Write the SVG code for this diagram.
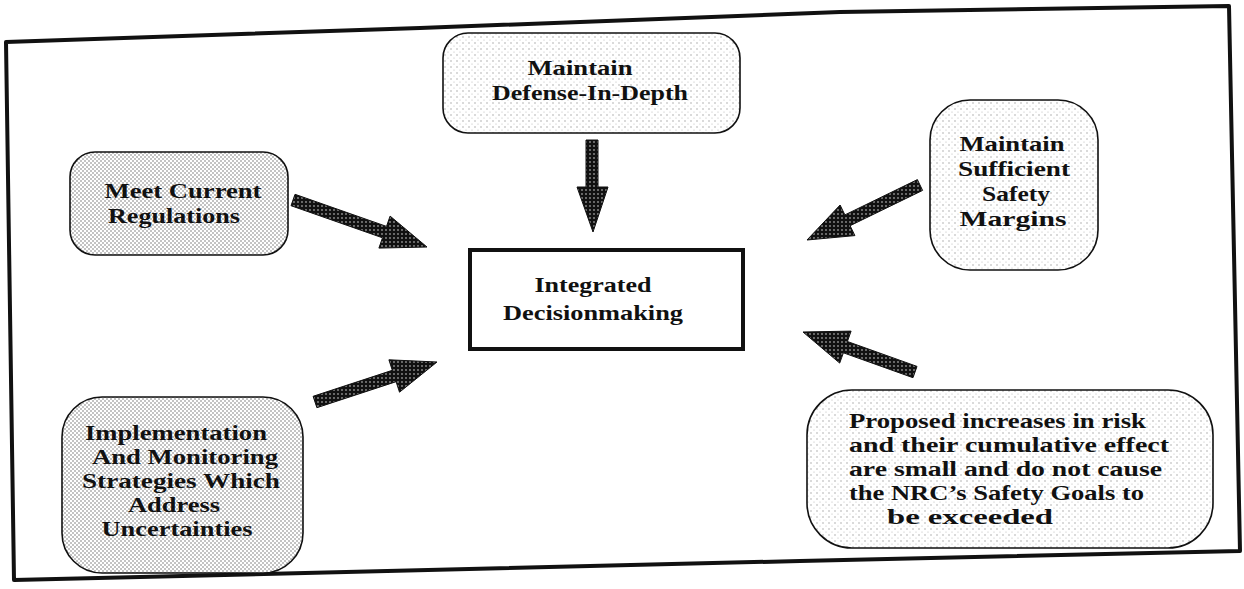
<svg xmlns="http://www.w3.org/2000/svg" width="1244" height="589" viewBox="0 0 1244 589">
<defs>
<pattern id="dense" width="4" height="4" patternUnits="userSpaceOnUse">
<rect width="4" height="4" fill="#ffffff"/>
<circle cx="1" cy="1" r="0.8" fill="#777"/>
<circle cx="3" cy="3" r="0.8" fill="#777"/>
</pattern>
<pattern id="light" width="6" height="6" patternUnits="userSpaceOnUse">
<rect width="6" height="6" fill="#ffffff"/>
<circle cx="1" cy="1" r="0.7" fill="#999"/>
<circle cx="4" cy="4" r="0.6" fill="#bbb"/>
</pattern>
<pattern id="arrowfill" width="4" height="4" patternUnits="userSpaceOnUse">
<rect width="4" height="4" fill="#111"/>
<circle cx="2" cy="2" r="0.7" fill="#fff"/>
</pattern>
</defs>
<style>
.t{font-family:"Liberation Serif","Times New Roman",serif;font-weight:bold;font-size:21px;fill:#111;}
.m{text-anchor:middle;}
.box{stroke:#111;stroke-width:1.6;}
.arrow{fill:url(#arrowfill);stroke:#111;stroke-width:1;}
</style>
<rect width="1244" height="589" fill="#ffffff"/>
<path d="M6,42 L420,28 L840,12 L1229,6 L1240,551 L800,561 L14,580 Z" fill="none" stroke="#111" stroke-width="4" stroke-linejoin="round"/>

<g id="node-regulations">
<rect class="box" x="70" y="152" width="218" height="103" rx="25" fill="url(#dense)"/>
<text class="t m" x="183" y="198" textLength="157" lengthAdjust="spacingAndGlyphs">Meet Current</text>
<text class="t m" x="174" y="223" textLength="132" lengthAdjust="spacingAndGlyphs">Regulations</text>
</g>

<g id="node-defense">
<rect class="box" x="443" y="33" width="297" height="100" rx="25" fill="url(#light)"/>
<text class="t m" x="580" y="75" textLength="105" lengthAdjust="spacingAndGlyphs">Maintain</text>
<text class="t m" x="590" y="100" textLength="196" lengthAdjust="spacingAndGlyphs">Defense-In-Depth</text>
</g>

<g id="node-margins">
<rect class="box" x="930" y="100" width="168" height="170" rx="40" fill="url(#light)"/>
<text class="t m" x="1012" y="151" textLength="105" lengthAdjust="spacingAndGlyphs">Maintain</text>
<text class="t m" x="1014" y="176" textLength="112" lengthAdjust="spacingAndGlyphs">Sufficient</text>
<text class="t m" x="1016" y="201" textLength="68" lengthAdjust="spacingAndGlyphs">Safety</text>
<text class="t m" x="1013" y="226" textLength="107" lengthAdjust="spacingAndGlyphs">Margins</text>
</g>

<g id="node-integrated">
<rect x="470" y="250" width="273" height="99" fill="#ffffff" stroke="#111" stroke-width="4"/>
<text class="t m" x="593" y="292" textLength="117" lengthAdjust="spacingAndGlyphs">Integrated</text>
<text class="t m" x="593" y="320" textLength="180" lengthAdjust="spacingAndGlyphs">Decisionmaking</text>
</g>

<g id="node-implementation">
<rect class="box" x="62" y="397" width="241" height="176" rx="40" fill="url(#dense)"/>
<text class="t m" x="176" y="440" textLength="182" lengthAdjust="spacingAndGlyphs">Implementation</text>
<text class="t m" x="185" y="464" textLength="186" lengthAdjust="spacingAndGlyphs">And Monitoring</text>
<text class="t m" x="181" y="488" textLength="198" lengthAdjust="spacingAndGlyphs">Strategies Which</text>
<text class="t m" x="174" y="512" textLength="92" lengthAdjust="spacingAndGlyphs">Address</text>
<text class="t m" x="177" y="536" textLength="151" lengthAdjust="spacingAndGlyphs">Uncertainties</text>
</g>

<g id="node-risk">
<rect class="box" x="807" y="390" width="406" height="158" rx="45" fill="url(#light)"/>
<text class="t" x="849" y="428" textLength="297" lengthAdjust="spacingAndGlyphs">Proposed increases in risk</text>
<text class="t" x="849" y="452" textLength="320" lengthAdjust="spacingAndGlyphs">and their cumulative effect</text>
<text class="t" x="849" y="476" textLength="313" lengthAdjust="spacingAndGlyphs">are small and do not cause</text>
<text class="t" x="849" y="500" textLength="295" lengthAdjust="spacingAndGlyphs">the NRC’s Safety Goals to</text>
<text class="t" x="887" y="524" textLength="166" lengthAdjust="spacingAndGlyphs">be exceeded</text>
</g>

<g id="connectors">
<polygon class="arrow" points="295,194.3 386.5,226.4 390.1,216.1 427,247 378.9,248.1 382.5,237.8 291,205.7"/>
<polygon class="arrow" points="586,140 598,140 598,187 608,187 593,232 577,187 586,187"/>
<polygon class="arrow" points="917.4,179.6 844.9,214.9 840.1,205 807,240 854.9,235.6 850.1,225.7 922.6,190.4"/>
<polygon class="arrow" points="917,366.4 847.4,341.5 851.1,331.1 803,332 839.7,363.1 843.4,352.8 913,377.7"/>
<polygon class="arrow" points="313.1,396.3 392.3,370.3 388.9,359.8 437,362 399.5,392.2 396.1,381.7 316.9,407.7"/>
</g>
</svg>
